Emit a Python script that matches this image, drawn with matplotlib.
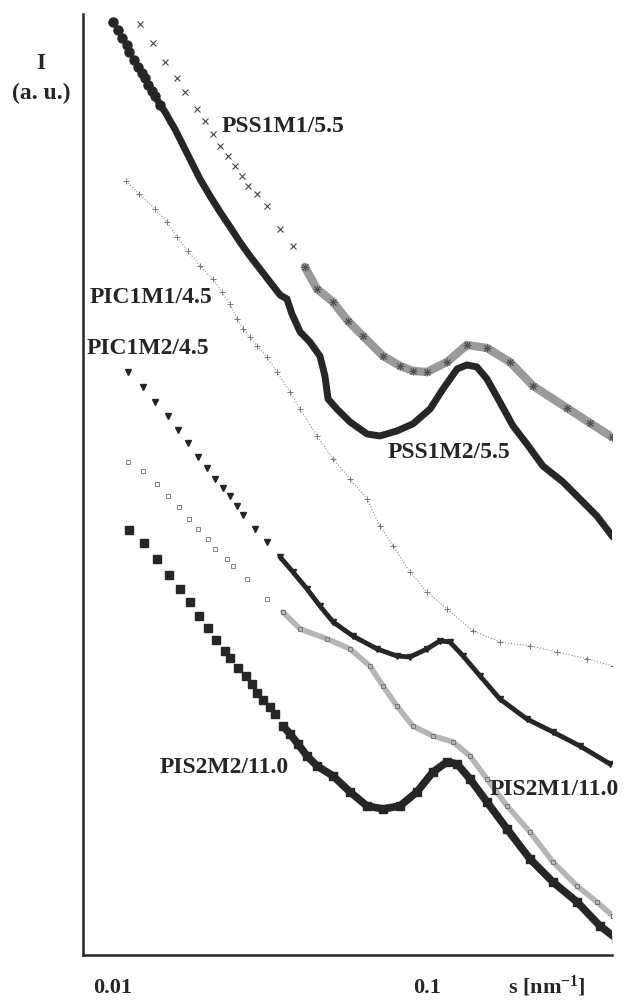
import numpy as np
import matplotlib.pyplot as plt
from matplotlib.ticker import NullLocator

plt.rcParams['font.family'] = ['Liberation Serif', 'DejaVu Serif']
plt.rcParams['font.weight'] = 'bold'
plt.rcParams['mathtext.fontset'] = 'custom'
plt.rcParams['mathtext.rm'] = 'Liberation Serif:bold'
plt.rcParams['mathtext.it'] = 'Liberation Serif:bold'

# values: log10 s [nm^-1] and log I (a.u., arbitrary offset)
pss1m2_logs = [-2.000, -1.984, -1.971, -1.955, -1.949, -1.933, -1.920, -1.908, -1.898, -1.889,
               -1.876, -1.866, -1.850, -1.834, -1.818, -1.803, -1.787, -1.755, -1.723, -1.691,
               -1.659, -1.627, -1.596, -1.564, -1.532, -1.500, -1.468, -1.446, -1.430, -1.404,
               -1.373, -1.341, -1.325, -1.315, -1.287, -1.245, -1.191, -1.150, -1.096, -1.045,
               -0.990, -0.949, -0.904, -0.873, -0.841, -0.809, -0.768, -0.726, -0.682, -0.631,
               -0.567, -0.513, -0.459, -0.408]
pss1m2_i = [9.33, 9.25, 9.17, 9.10, 9.03, 8.95, 8.88, 8.82, 8.77, 8.70,
            8.64, 8.59, 8.50, 8.43, 8.34, 8.26, 8.16, 7.96, 7.76, 7.59,
            7.43, 7.28, 7.13, 6.99, 6.86, 6.73, 6.60, 6.56, 6.41, 6.23,
            6.13, 5.99, 5.79, 5.56, 5.46, 5.33, 5.21, 5.19, 5.24, 5.31,
            5.46, 5.66, 5.86, 5.90, 5.88, 5.76, 5.53, 5.29, 5.11, 4.89,
            4.73, 4.56, 4.39, 4.18]

pss1m1_logs = [-1.914, -1.873, -1.834, -1.796, -1.771, -1.732, -1.707, -1.682, -1.659, -1.634,
               -1.611, -1.589, -1.570, -1.541, -1.510, -1.468, -1.427, -1.389, -1.350, -1.299,
               -1.252, -1.204, -1.140, -1.086, -1.045, -1.000, -0.936, -0.873, -0.809, -0.736,
               -0.662, -0.554, -0.481, -0.411]
pss1m1_i = [9.31, 9.12, 8.93, 8.77, 8.63, 8.46, 8.34, 8.21, 8.09, 7.99,
            7.89, 7.79, 7.69, 7.61, 7.49, 7.26, 7.09, 6.88, 6.66, 6.53,
            6.34, 6.19, 5.99, 5.89, 5.84, 5.83, 5.93, 6.10, 6.07, 5.93,
            5.69, 5.47, 5.32, 5.18]

pic1m1_logs = [-1.959, -1.917, -1.866, -1.828, -1.796, -1.761, -1.723, -1.682, -1.653, -1.627,
               -1.605, -1.586, -1.564, -1.541, -1.510, -1.478, -1.436, -1.404, -1.350, -1.299,
               -1.245, -1.191, -1.150, -1.108, -1.054, -1.000, -0.936, -0.854, -0.768, -0.672,
               -0.586, -0.490, -0.408]
pic1m1_i = [7.74, 7.61, 7.46, 7.33, 7.18, 7.04, 6.89, 6.76, 6.63, 6.51,
            6.36, 6.26, 6.18, 6.09, 5.98, 5.83, 5.63, 5.46, 5.19, 4.96,
            4.76, 4.56, 4.29, 4.09, 3.83, 3.63, 3.46, 3.24, 3.13, 3.09,
            3.03, 2.96, 2.89]

pic1m2_logs = [-1.952, -1.904, -1.866, -1.825, -1.793, -1.761, -1.729, -1.701, -1.675, -1.650,
               -1.627, -1.605, -1.586, -1.548, -1.510, -1.468, -1.427, -1.382, -1.341, -1.299,
               -1.236, -1.159, -1.096, -1.054, -1.000, -0.959, -0.927, -0.885, -0.831, -0.768,
               -0.682, -0.599, -0.513, -0.417]
pic1m2_i = [5.83, 5.68, 5.53, 5.39, 5.25, 5.12, 4.98, 4.87, 4.76, 4.67,
            4.59, 4.49, 4.40, 4.26, 4.13, 3.98, 3.83, 3.66, 3.49, 3.33,
            3.19, 3.06, 2.99, 2.98, 3.06, 3.14, 3.13, 2.99, 2.79, 2.56,
            2.36, 2.23, 2.09, 1.91]

pis2m1_logs = [-1.952, -1.904, -1.860, -1.825, -1.790, -1.758, -1.729, -1.697, -1.675, -1.637,
               -1.618, -1.573, -1.510, -1.459, -1.404, -1.318, -1.245, -1.182, -1.140, -1.096,
               -1.045, -0.981, -0.917, -0.863, -0.809, -0.745, -0.672, -0.599, -0.522, -0.459,
               -0.408]
pis2m1_i = [4.93, 4.84, 4.71, 4.59, 4.48, 4.36, 4.26, 4.16, 4.06, 3.96,
            3.89, 3.76, 3.56, 3.43, 3.26, 3.16, 3.06, 2.89, 2.69, 2.49,
            2.29, 2.19, 2.13, 1.99, 1.76, 1.49, 1.23, 0.93, 0.69, 0.53,
            0.39]

pis2m2_logs = [-1.949, -1.901, -1.860, -1.822, -1.787, -1.755, -1.726, -1.697, -1.672, -1.643,
               -1.627, -1.602, -1.576, -1.557, -1.541, -1.522, -1.500, -1.484, -1.459, -1.436,
               -1.411, -1.382, -1.350, -1.299, -1.245, -1.191, -1.140, -1.086, -1.032, -0.981,
               -0.936, -0.904, -0.863, -0.809, -0.745, -0.672, -0.599, -0.522, -0.449, -0.395]
pis2m2_i = [4.25, 4.12, 3.96, 3.80, 3.66, 3.53, 3.39, 3.27, 3.15, 3.04,
            2.97, 2.87, 2.79, 2.71, 2.62, 2.55, 2.48, 2.41, 2.29, 2.21,
            2.11, 1.99, 1.89, 1.79, 1.63, 1.49, 1.46, 1.49, 1.63, 1.83,
            1.93, 1.91, 1.76, 1.53, 1.26, 0.96, 0.73, 0.53, 0.29, 0.16]

tick_vals = [0.01, 0.1]
tick_labels = ['0.01', '0.1']

dark = '#262626'

fig = plt.figure(figsize=(6.33, 10.03), dpi=100)
ax = fig.add_axes([0.1311, 0.0469, 0.8357, 0.9382])


def s(v):
    return 10 ** np.array(v)


# PSS1M1/5.5 - crosses, merging into a hatched band
ax.plot(s(pss1m1_logs[17:]), pss1m1_i[17:], color='#9a9a9a', lw=6, solid_capstyle='round')
ax.plot(s(pss1m1_logs), pss1m1_i, ls='none', marker='x', ms=4.5, mew=0.8, color='#444444')
ax.plot(s(pss1m1_logs[17:]), pss1m1_i[17:], ls='none', marker='+', ms=6, mew=0.8, color='#555555')

# PSS1M2/5.5 - filled circles, merging into a thick line
ax.plot(s(pss1m2_logs[:13]), pss1m2_i[:13], ls='none', marker='o', ms=6.5, color=dark)
ax.plot(s(pss1m2_logs[11:]), pss1m2_i[11:], color=dark, lw=5,
        solid_capstyle='round', solid_joinstyle='round')

# PIC1M1/4.5 - sparse light pluses
ax.plot(s(pic1m1_logs), pic1m1_i, color='#8a8a8a', lw=0.8, ls=':')
ax.plot(s(pic1m1_logs), pic1m1_i, ls='none', marker='+', ms=4, mew=0.7, color='#777777')

# PIC1M2/4.5 - down triangles
ax.plot(s(pic1m2_logs[15:]), pic1m2_i[15:], color=dark, lw=3.5, solid_capstyle='round')
ax.plot(s(pic1m2_logs), pic1m2_i, ls='none', marker='v', ms=5, color=dark)

# PIS2M1/11.0 - light hatched squares
ax.plot(s(pis2m1_logs[13:]), pis2m1_i[13:], color='#b5b5b5', lw=4, solid_capstyle='round')
ax.plot(s(pis2m1_logs), pis2m1_i, ls='none', marker='s', ms=3.5, mfc='none', mew=0.6,
        color='#6e6e6e')

# PIS2M2/11.0 - filled squares
ax.plot(s(pis2m2_logs[18:]), pis2m2_i[18:], color=dark, lw=5.5, solid_capstyle='butt',
        solid_joinstyle='round')
ax.plot(s(pis2m2_logs), pis2m2_i, ls='none', marker='s', ms=5.5, color=dark)

ax.set_xscale('log')
ax.set_xlim(10 ** -2.0955, 10 ** -0.4108)
ax.set_ylim(0, 9.41)
ax.set_xticks(tick_vals)
ax.set_xticklabels(tick_labels)
ax.xaxis.set_minor_locator(NullLocator())
ax.set_yticks([])
ax.tick_params(axis='x', length=0, pad=16, labelsize=16, colors=dark)
for lab in ax.get_xticklabels():
    lab.set_fontweight('bold')
ax.spines[['top', 'right']].set_visible(False)
for side in ['left', 'bottom']:
    ax.spines[side].set_linewidth(1.8)
    ax.spines[side].set_color(dark)

ax.text(10 ** -0.618, -0.04, 's [nm$^{-1}$]', ha='center', va='baseline', fontsize=16,
        fontweight='bold', color=dark, transform=ax.get_xaxis_transform())

lbl = dict(fontsize=17, fontweight='bold', color=dark, va='center', ha='left')
ax.text(10 ** -1.653, 8.29, 'PSS1M1/5.5', **lbl)
ax.text(10 ** -2.073, 6.58, 'PIC1M1/4.5', **lbl)
ax.text(10 ** -2.083, 6.07, 'PIC1M2/4.5', **lbl)
ax.text(10 ** -1.124, 5.03, 'PSS1M2/5.5', **lbl)
ax.text(10 ** -1.850, 1.88, 'PIS2M2/11.0', **lbl)
ax.text(10 ** -0.799, 1.66, 'PIS2M1/11.0', **lbl)

fig.text(0.065, 0.937, 'I', fontsize=17, fontweight='bold', color=dark, ha='center', va='center')
fig.text(0.065, 0.907, '(a. u.)', fontsize=17, fontweight='bold', color=dark,
         ha='center', va='center')

fig.savefig('out.png', dpi=100)
